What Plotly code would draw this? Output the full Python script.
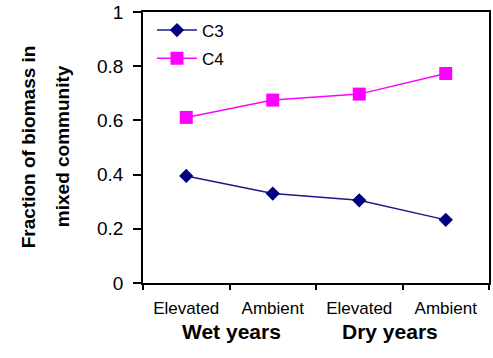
import plotly.graph_objects as go

# Treatment categories along the x axis
treatments = ["Elevated", "Ambient", "Elevated ", "Ambient "]
tick_text = ["Elevated", "Ambient", "Elevated", "Ambient"]
year_groups = ["Wet years", "Dry years"]

# Fraction of biomass in mixed community
c3_fraction = [0.395, 0.330, 0.305, 0.233]
c4_fraction = [0.611, 0.675, 0.697, 0.773]

y_ticks = [0, 0.2, 0.4, 0.6, 0.8, 1]
y_title_lines = ["Fraction of biomass in", "mixed community"]

FONT = "Liberation Sans, Arial, sans-serif"

fig = go.Figure()
fig.add_trace(go.Scatter(
    x=treatments, y=c3_fraction, name="C3", mode="lines+markers",
    legendgroup="c3",
    line=dict(color="#1a1a8c", width=1.5),
    marker=dict(symbol="diamond", size=11, color="#000080",
                line=dict(width=0)),
))
fig.add_trace(go.Scatter(
    x=treatments, y=c4_fraction, name="C4", mode="lines+markers",
    legendgroup="c4",
    line=dict(color="#FF00FF", width=1.5),
    marker=dict(symbol="square", size=13, color="#FF00FF",
                line=dict(width=0)),
))

fig.update_layout(
    width=493, height=358,
    margin=dict(l=143, r=2, t=11, b=75),
    paper_bgcolor="white", plot_bgcolor="white",
    font=dict(family=FONT, color="black"),
    showlegend=True,
    legend=dict(
        x=0.026, y=0.998, xanchor="left", yanchor="top",
        bgcolor="rgba(0,0,0,0)", font=dict(size=17, family=FONT),
        traceorder="grouped", tracegroupgap=3, itemwidth=40,
    ),
)

fig.update_xaxes(
    type="category", categoryorder="array", categoryarray=treatments,
    tickvals=treatments, ticktext=tick_text,
    range=[-0.5, 3.5],
    showgrid=False, zeroline=False,
    showline=True, linecolor="black", linewidth=1.5, mirror=True,
    ticks="outside", tickson="boundaries", ticklen=5, tickwidth=1.5,
    tickcolor="black",
    tickfont=dict(size=17, family=FONT),
    ticklabelstandoff=9,
)
fig.update_yaxes(
    range=[0, 1], tickvals=y_ticks, ticktext=[f"{v:g}" for v in y_ticks],
    showgrid=False, zeroline=False,
    showline=True, linecolor="black", linewidth=1.5, mirror=True,
    ticks="outside", ticklen=8, tickwidth=1.5, tickcolor="black",
    tickfont=dict(size=19, family=FONT),
    ticklabelstandoff=6,
)

# Y-axis title, one annotation per line
for line_text, xpos in zip(y_title_lines, [-0.330, -0.232]):
    fig.add_annotation(
        text=f"<b>{line_text}</b>",
        xref="paper", yref="paper", x=xpos, y=0.504,
        xanchor="center", yanchor="middle", textangle=-90,
        showarrow=False, font=dict(size=19, family=FONT),
    )

# Year group labels beneath the treatment labels
for label, xpos in zip(year_groups, [0.2557, 0.7126]):
    fig.add_annotation(
        text=f"<b>{label}</b>", xref="paper", yref="paper",
        x=xpos, y=-0.180, xanchor="center", yanchor="middle",
        showarrow=False, font=dict(size=21, family=FONT),
    )

fig.write_html("out.html")
